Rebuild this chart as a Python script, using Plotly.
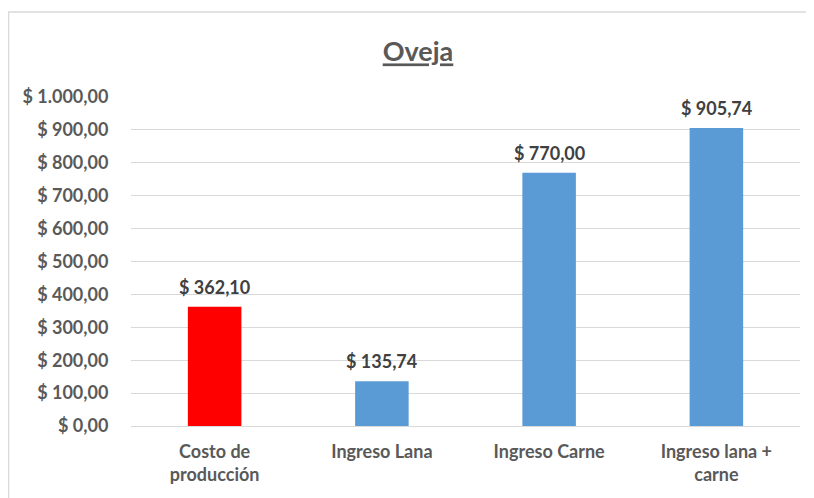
import plotly.graph_objects as go

categories = ["Costo de<br>producción", "Ingreso Lana", "Ingreso Carne", "Ingreso lana +<br>carne"]
values = [362.10, 135.74, 770.00, 905.74]
bar_colors = ["#FF0000", "#5B9BD5", "#5B9BD5", "#5B9BD5"]
tick_vals = [0, 100, 200, 300, 400, 500, 600, 700, 800, 900, 1000]
tick_text = ["$ 0,00", "$ 100,00", "$ 200,00", "$ 300,00", "$ 400,00", "$ 500,00",
             "$ 600,00", "$ 700,00", "$ 800,00", "$ 900,00", "$ 1.000,00"]
label_text = ["$ 362,10", "$ 135,74", "$ 770,00", "$ 905,74"]

FONT = "Lato"
GREY = "#595959"

# page has an 8px body offset; plot area target on page: x 131..800, y 97..426
L, T = 123, 89
PW, PH = 669, 329

fig = go.Figure()
fig.add_trace(go.Bar(x=categories, y=values, marker=dict(color=bar_colors, line=dict(width=0)),
                     width=0.32, hoverinfo="skip"))

for c, v, t in zip(categories, values, label_text):
    fig.add_annotation(x=c, y=v, text="<b>" + t + "</b>", showarrow=False, yanchor="bottom",
                       yshift=7, font=dict(family=FONT, size=18, color="#404040"))

fig.update_layout(
    width=814, height=498,
    margin=dict(l=L, r=814 - L - PW, t=T, b=498 - T - PH),
    paper_bgcolor="white", plot_bgcolor="white",
    showlegend=False,
    title=dict(text="<b>Oveja</b>", x=(418 - 8) / 814, xanchor="center", y=1 - (52 - 8) / 498, yanchor="middle",
               font=dict(family=FONT, size=27, color=GREY, lineposition="under")),
    font=dict(family=FONT, color=GREY),
)
fig.update_yaxes(range=[0, 1000], tickvals=tick_vals, ticktext=["<b>" + t + "</b>" for t in tick_text],
                 showgrid=True, gridcolor="#D9D9D9", gridwidth=1, zeroline=False,
                 ticks="outside", ticklen=18, tickcolor="rgba(0,0,0,0)",
                 tickfont=dict(family=FONT, size=18, color=GREY), fixedrange=True)
fig.update_xaxes(ticktext=["<b>" + c + "</b>" for c in categories], tickvals=categories,
                 showline=True, linecolor="#D9D9D9", linewidth=1,
                 ticks="outside", ticklen=9, tickcolor="rgba(0,0,0,0)",
                 tickfont=dict(family=FONT, size=18, color=GREY))

# chart area border (page x=8,y=12 -> figure x=0,y=4)
fig.add_shape(type="rect", xref="paper", yref="paper",
              x0=(0.5 - L) / PW, x1=(830 - L) / PW,
              y0=(T + PH - 520) / PH, y1=(T + PH - 4) / PH,
              line=dict(color="#D9D9D9", width=1.5), fillcolor="rgba(0,0,0,0)", layer="below")

fig.write_html("out.html")
